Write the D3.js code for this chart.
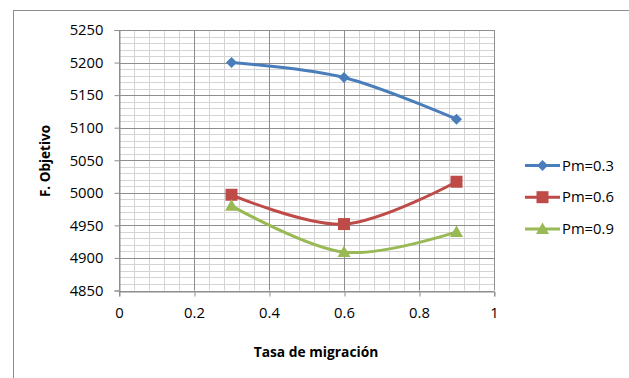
<!DOCTYPE html>
<html>
<head>
<meta charset="utf-8">
<script src="https://cdn.jsdelivr.net/npm/d3@7"></script>
<style>
  html, body { margin: 0; padding: 0; background: #fff; }
  svg { display: block; }
  text { font-family: "Open Sans", "Noto Sans", sans-serif; fill: #000; }
</style>
</head>
<body>
<svg id="chart" width="629" height="378"></svg>
<script>
// Migration rate on the x axis, objective function value per mutation probability
const migrationRates = [0.3, 0.6, 0.9];
const pm03 = [5200, 5177, 5113];
const pm06 = [4997, 4952, 5017];
const pm09 = [4980, 4909, 4940];
const seriesNames = ["Pm=0.3", "Pm=0.6", "Pm=0.9"];
const xTicks = [0, 0.2, 0.4, 0.6, 0.8, 1];
const yTicks = [4850, 4900, 4950, 5000, 5050, 5100, 5150, 5200, 5250];

const series = [
  { name: seriesNames[0], values: pm03, color: "#4A7EBB", marker: "diamond" },
  { name: seriesNames[1], values: pm06, color: "#BE4B48", marker: "square" },
  { name: seriesNames[2], values: pm09, color: "#98B954", marker: "triangle" }
];

const svg = d3.select("#chart");

// Outer chart frame
svg.append("rect")
  .attr("x", 13.5).attr("y", 10.5)
  .attr("width", 640).attr("height", 400)
  .attr("fill", "none").attr("stroke", "#8c8c8c").attr("stroke-width", 1);

const plot = { left: 119, right: 494, top: 30, bottom: 290.5 };

const x = d3.scaleLinear().domain([0, 1]).range([plot.left, plot.right]);
const y = d3.scaleLinear().domain([4850, 5250]).range([plot.bottom, plot.top]);

const grid = svg.append("g");
// Minor gridlines
grid.selectAll("line.vminor")
  .data(d3.range(0, 1.0001, 0.04))
  .join("line")
  .attr("x1", d => Math.round(x(d)) + 0.5).attr("x2", d => Math.round(x(d)) + 0.5)
  .attr("y1", plot.top).attr("y2", plot.bottom)
  .attr("stroke", "#d4d4d4");
grid.selectAll("line.hminor")
  .data(d3.range(4850, 5250.001, 10))
  .join("line")
  .attr("y1", d => Math.round(y(d)) + 0.5).attr("y2", d => Math.round(y(d)) + 0.5)
  .attr("x1", plot.left).attr("x2", plot.right)
  .attr("stroke", "#d4d4d4");
// Major gridlines
grid.selectAll("line.vmajor")
  .data(xTicks)
  .join("line")
  .attr("x1", d => Math.round(x(d)) + 0.5).attr("x2", d => Math.round(x(d)) + 0.5)
  .attr("y1", plot.top).attr("y2", plot.bottom)
  .attr("stroke", "#8e8e8e");
grid.selectAll("line.hmajor")
  .data(yTicks)
  .join("line")
  .attr("y1", d => Math.round(y(d)) + 0.5).attr("y2", d => Math.round(y(d)) + 0.5)
  .attr("x1", plot.left).attr("x2", plot.right)
  .attr("stroke", "#8e8e8e");

// Axes
const xAxis = svg.append("g")
  .attr("transform", `translate(0,${Math.round(plot.bottom) + 0.5})`)
  .call(d3.axisBottom(x).tickValues(xTicks).tickFormat(d3.format("")).tickSize(5).tickPadding(11));
const yAxis = svg.append("g")
  .attr("transform", `translate(${plot.left + 0.5},0)`)
  .call(d3.axisLeft(y).tickValues(yTicks).tickSize(5).tickPadding(11).tickFormat(d3.format("d")));
[xAxis, yAxis].forEach(a => {
  a.select(".domain").attr("stroke", "#8e8e8e");
  a.selectAll(".tick line").attr("stroke", "#8e8e8e");
  a.selectAll(".tick text").style("font-size", "14.8px").style("font-family", '"Open Sans", sans-serif').attr("fill", "#000");
});
xAxis.selectAll(".tick line").attr("transform", d => `translate(${Math.round(x(d)) + 0.5 - x(d)},0)`);

// Axis titles
svg.append("text")
  .attr("x", 316).attr("y", 357)
  .attr("text-anchor", "middle")
  .style("font-size", "13.8px").style("font-weight", "bold")
  .text("Tasa de migración");
svg.append("text")
  .attr("transform", "translate(50,161) rotate(-90)")
  .attr("text-anchor", "middle")
  .style("font-size", "13.5px").style("font-weight", "bold")
  .text("F. Objetivo");

// Smoothed series lines
const line = d3.line()
  .x((d, i) => x(migrationRates[i]))
  .y(d => y(d))
  .curve(d3.curveCatmullRom.alpha(0));

function drawMarker(g, type, color, cx, cy) {
  if (type === "diamond") {
    g.append("path")
      .attr("d", `M${cx},${cy - 5.5}L${cx + 5.5},${cy}L${cx},${cy + 5.5}L${cx - 5.5},${cy}Z`)
      .attr("fill", color);
  } else if (type === "square") {
    g.append("rect")
      .attr("x", cx - 6).attr("y", cy - 6).attr("width", 12).attr("height", 12)
      .attr("fill", color);
  } else {
    g.append("path")
      .attr("d", `M${cx},${cy - 6.5}L${cx + 6.5},${cy + 5}L${cx - 6.5},${cy + 5}Z`)
      .attr("fill", color);
  }
}

series.forEach(s => {
  svg.append("path")
    .datum(s.values)
    .attr("d", line)
    .attr("fill", "none")
    .attr("stroke", s.color)
    .attr("stroke-width", 3);
  const mg = svg.append("g");
  s.values.forEach((v, i) => drawMarker(mg, s.marker, s.color, x(migrationRates[i]), y(v)));
});

// Legend
const legend = svg.append("g");
series.forEach((s, i) => {
  const ly = 165.5 + i * 31.7;
  legend.append("line")
    .attr("x1", 525).attr("x2", 560).attr("y1", ly).attr("y2", ly)
    .attr("stroke", s.color).attr("stroke-width", 3);
  drawMarker(legend, s.marker, s.color, 542.5, ly);
  legend.append("text")
    .attr("x", 562).attr("y", ly)
    .attr("dy", "0.35em")
    .style("font-size", "14.8px")
    .text(s.name);
});
</script>
</body>
</html>
